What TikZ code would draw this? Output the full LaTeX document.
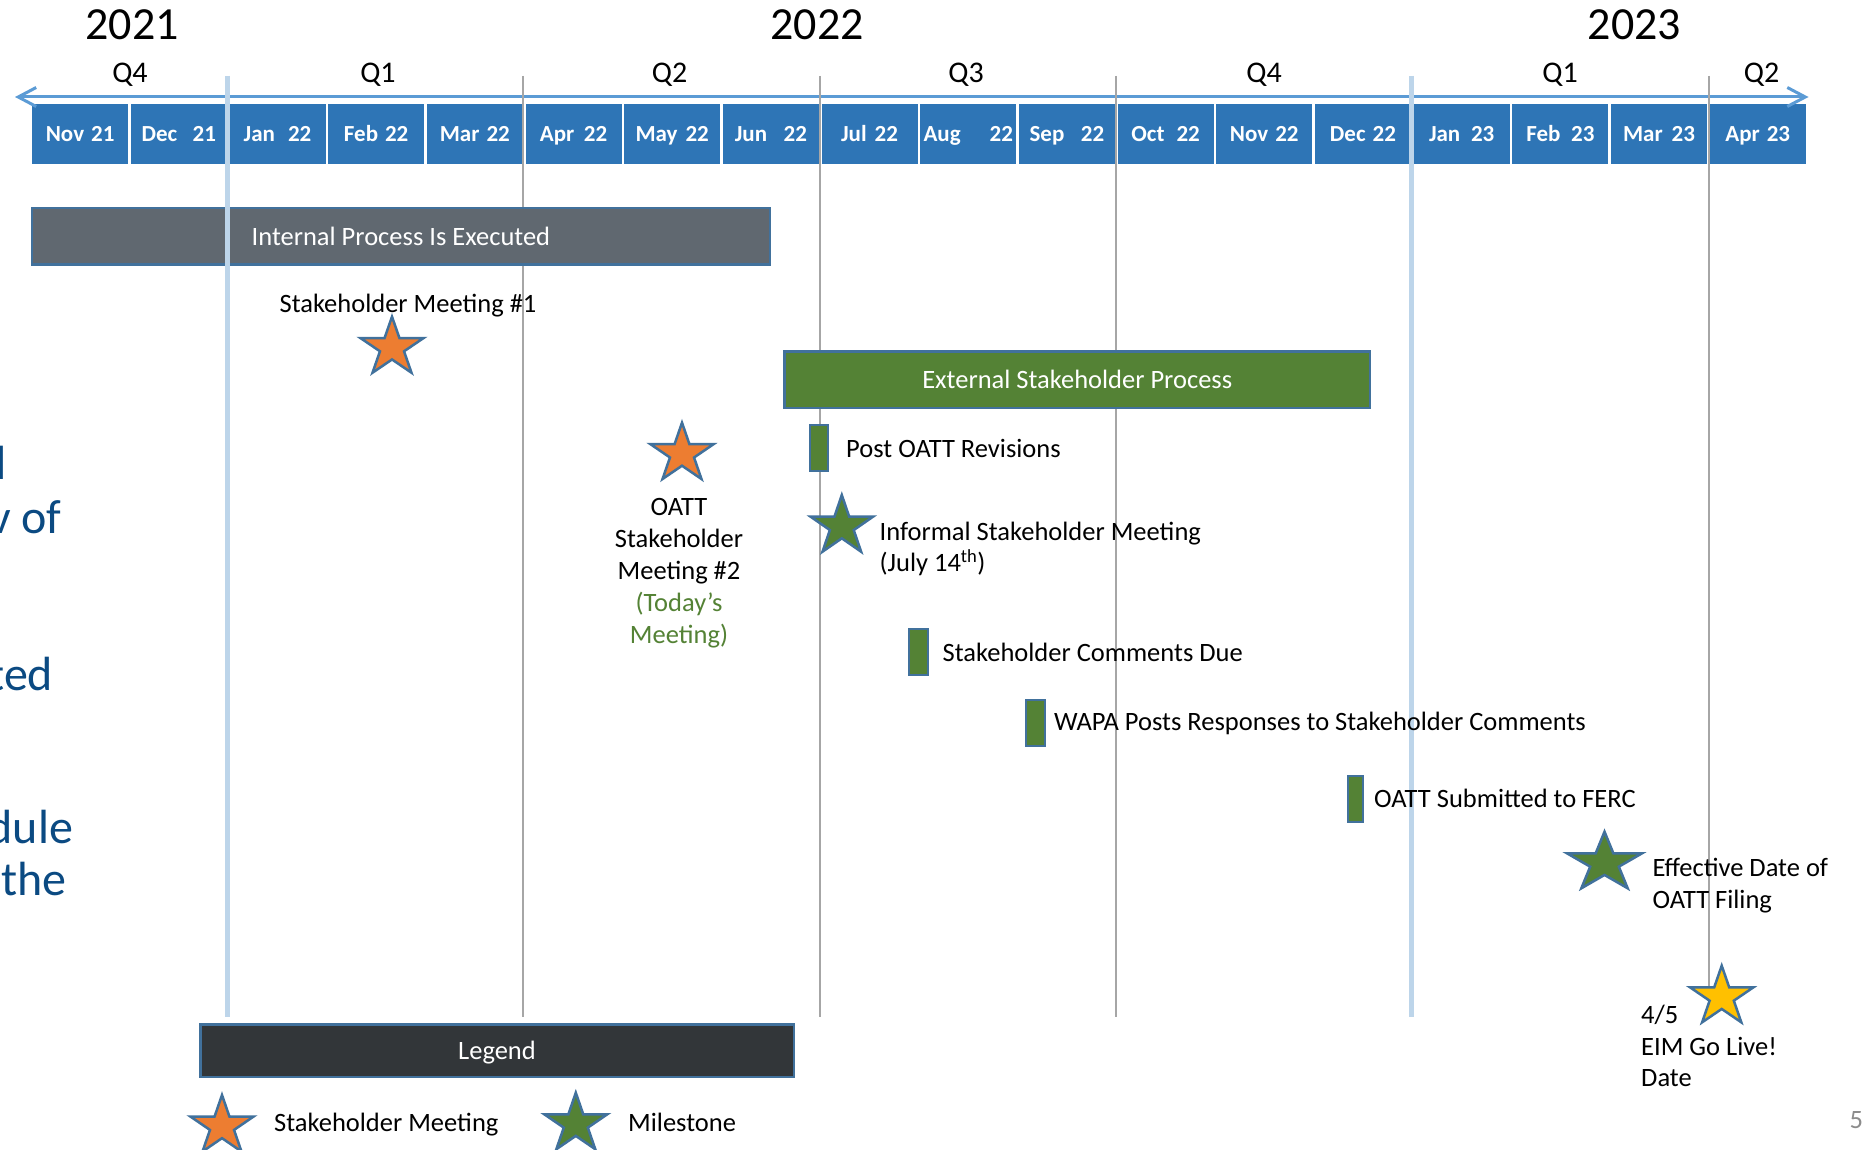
\documentclass[tikz,border=0pt]{standalone}
\usepackage{fontspec}
\setmainfont{Carlito}
\usetikzlibrary{arrows.meta}
\definecolor{mbar}{HTML}{2E75B6}
\definecolor{arrowblue}{HTML}{5B9BD5}
\definecolor{lightln}{HTML}{BDD5EA}
\definecolor{grayln}{HTML}{A6A6A6}
\definecolor{bord}{HTML}{41719C}
\definecolor{msgreen}{HTML}{548235}
\definecolor{msorange}{HTML}{ED7D31}
\definecolor{msyellow}{HTML}{FFC000}
\definecolor{intgray}{HTML}{606870}
\definecolor{legdark}{HTML}{323639}
\definecolor{leftblue}{HTML}{0B4A82}
\definecolor{pagegray}{HTML}{8C8C8C}
\tikzset{
  body/.style={font=\fontsize{26.5}{32}\selectfont, inner sep=0pt, text=black},
  yearlbl/.style={font=\fontsize{46}{50}\selectfont, inner sep=0pt, anchor=base},
  qlbl/.style={font=\fontsize{30}{34}\selectfont, inner sep=0pt, anchor=base},
  monthcell/.style={fill=mbar, minimum width=96pt, minimum height=60pt, inner sep=0pt,
    text=white, font=\bfseries\fontsize{23}{26}\selectfont, text height=14.8pt, text depth=0pt},
  bigbox/.style={draw=bord, line width=2.5pt, inner sep=0pt, text=white,
    font=\fontsize{26.5}{32}\selectfont, text height=17.1pt, text depth=0pt},
  tickbox/.style={fill=msgreen, draw=bord, line width=2.2pt, inner sep=0pt},
  starline/.style={draw=bord, line width=2.5pt, line join=miter},
  grayline/.style={draw=grayln, line width=2.2pt},
  blueline/.style={draw=lightln, line width=5pt},
  arrowln/.style={draw=arrowblue, line width=3pt,
    arrows={Straight Barb[length=18pt,width=19pt]-Straight Barb[length=18pt,width=19pt]}},
  lefttext/.style={font=\fontsize{48}{54}\selectfont, text=leftblue, inner sep=0pt, anchor=base east},
}
\newcommand{\drawstar}[5]{%
  \begin{scope}[shift={(#1,{#2+#4/1.809})}, xscale={#3/1.902}, yscale={#4/1.809}]
    \filldraw[starline, fill=#5] (-90:1) -- (-54:0.382) -- (-18:1) -- (18:0.382) -- (54:1)
      -- (90:0.382) -- (126:1) -- (162:0.382) -- (198:1) -- (234:0.382) -- cycle;
  \end{scope}}
\begin{document}
\begin{tikzpicture}[x=1pt,y=-1pt]
\useasboundingbox (0,0) rectangle (1862,1150);
\clip (0,0) rectangle (1862,1150);
\fill[white] (0,0) rectangle (1862,1150);

% left clipped text fragments
\node[lefttext] (l1) at (6.7,479) {d};
\node[lefttext] (l2) at (61.7,533.5) {v of};
\node[lefttext] (l3) at (53.3,690) {ted};
\node[lefttext] (l4) at (73.3,843) {dule};
\node[lefttext] (l5) at (66.7,895) {the};

% years
\node[yearlbl] (y21) at (132,40) {2021};
\node[yearlbl] (y22) at (817,40) {2022};
\node[yearlbl] (y23) at (1634.5,40) {2023};

% quarters
\node[qlbl] (q1) at (130,83) {Q4};
\node[qlbl] (q2) at (378,83) {Q1};
\node[qlbl] (q3) at (669.5,83) {Q2};
\node[qlbl] (q4) at (966,83) {Q3};
\node[qlbl] (q5) at (1264,83) {Q4};
\node[qlbl] (q6) at (1560,83) {Q1};
\node[qlbl] (q7) at (1761.5,83) {Q2};

% month bar
\foreach \lab [count=\i from 0] in {Nov\hspace{7pt}21, Dec\hspace{15.4pt}21, Jan\hspace{13pt}22,
  Feb\hspace{7pt}22, Mar\hspace{7pt}22, Apr\hspace{9.5pt}22, May\hspace{8pt}22, Jun\hspace{16.6pt}22,
  Jul\hspace{8pt}22, Aug\hspace{29pt}22, Sep\hspace{16.6pt}22, Oct\hspace{12pt}22, Nov\hspace{7pt}22,
  Dec\hspace{7pt}22, Jan\hspace{10.7pt}23, Feb\hspace{10.7pt}23, Mar\hspace{9pt}23, Apr\hspace{7pt}23}
  \node[monthcell] (m\i) at ({30.8+98.68*(\i+0.5)},134.3) {\lab};

% arrow
\coordinate (aL) at (15,97);
\coordinate (aR) at (1808.5,97);
\draw[arrowln] (aL) -- (aR);

% gray quarter lines
\draw[grayline] (522.8,76) -- (522.8,1016.7);
\draw[grayline] (820,76) -- (820,1016.7);
\draw[grayline] (1116,76) -- (1116,1016.7);
\draw[grayline] (1708.6,76) -- (1708.6,1016.7);

% big boxes
\node[bigbox, fill=intgray, minimum width=737.7pt, minimum height=56.5pt] (ipe) at (400.9,236.5) {Internal Process Is Executed};
\node[bigbox, fill=msgreen, minimum width=585.9pt, minimum height=56.8pt] (esp) at (1077.2,379.7) {External Stakeholder Process};
\node[bigbox, fill=legdark, minimum width=593.5pt, minimum height=52.5pt] (leg) at (497,1050.5) {Legend};

% year lines
\draw[blueline] (227.5,76) -- (227.5,1016.7);
\draw[blueline] (1411.8,76) -- (1411.8,1016.7);

% tick boxes
\node[tickbox, minimum width=18pt, minimum height=46pt] (t1) at (818.9,448.3) {};
\node[tickbox, minimum width=19pt, minimum height=46pt] (t2) at (918.7,651.9) {};
\node[tickbox, minimum width=19pt, minimum height=46pt] (t3) at (1035.5,723.2) {};
\node[tickbox, minimum width=15pt, minimum height=46pt] (t4) at (1355.5,798.9) {};

% stars
\drawstar{392}{316.7}{63}{56}{msorange}
\drawstar{682}{422.7}{63}{56.3}{msorange}
\drawstar{841.8}{495}{62.5}{56.7}{msgreen}
\drawstar{1604.5}{831.7}{75}{56.6}{msgreen}
\drawstar{1721.7}{965.7}{63.4}{56.6}{msyellow}
\drawstar{222}{1095}{63}{56.5}{msorange}
\drawstar{575.8}{1092.7}{63}{56.5}{msgreen}

% labels
\node[body, anchor=base] (sm1) at (408,312) {Stakeholder Meeting \#1};
\node[body, anchor=base] (sm2a) at (679,515) {OATT};
\node[body, anchor=base] (sm2b) at (679,547) {Stakeholder};
\node[body, anchor=base] (sm2c) at (679,579) {Meeting \#2};
\node[body, anchor=base, text=msgreen] (sm2d) at (679,611) {(Today’s};
\node[body, anchor=base, text=msgreen] (sm2e) at (679,643) {Meeting)};
\node[body, anchor=base west] (pr) at (846,457.3) {Post OATT Revisions};
\node[body, anchor=base west] (ism1) at (879.4,540) {Informal Stakeholder Meeting};
\node[body, anchor=base west] (ism2) at (879.4,571.7) {(July 14\textsuperscript{th})};
\node[body, anchor=base west] (scd) at (942.5,661.7) {Stakeholder Comments Due};
\node[body, anchor=base west] (wapa) at (1054,730) {WAPA Posts Responses to Stakeholder Comments};
\node[body, anchor=base west] (ferc) at (1374,807.3) {OATT Submitted to FERC};
\node[body, anchor=base west] (eff1) at (1652.3,876.7) {Effective Date of};
\node[body, anchor=base west] (eff2) at (1652.3,908.3) {OATT Filing};
\node[body, anchor=base west] (eim1) at (1641,1023.3) {4/5};
\node[body, anchor=base west] (eim2) at (1641,1055) {EIM Go Live!};
\node[body, anchor=base west] (eim3) at (1641,1086.7) {Date};
\node[body, anchor=base west] (lg1) at (274,1131.7) {Stakeholder Meeting};
\node[body, anchor=base west] (lg2) at (628,1131.7) {Milestone};
\node[body, anchor=base west, text=pagegray] (pg) at (1849.5,1128.3) {5};
\end{tikzpicture}
\end{document}
